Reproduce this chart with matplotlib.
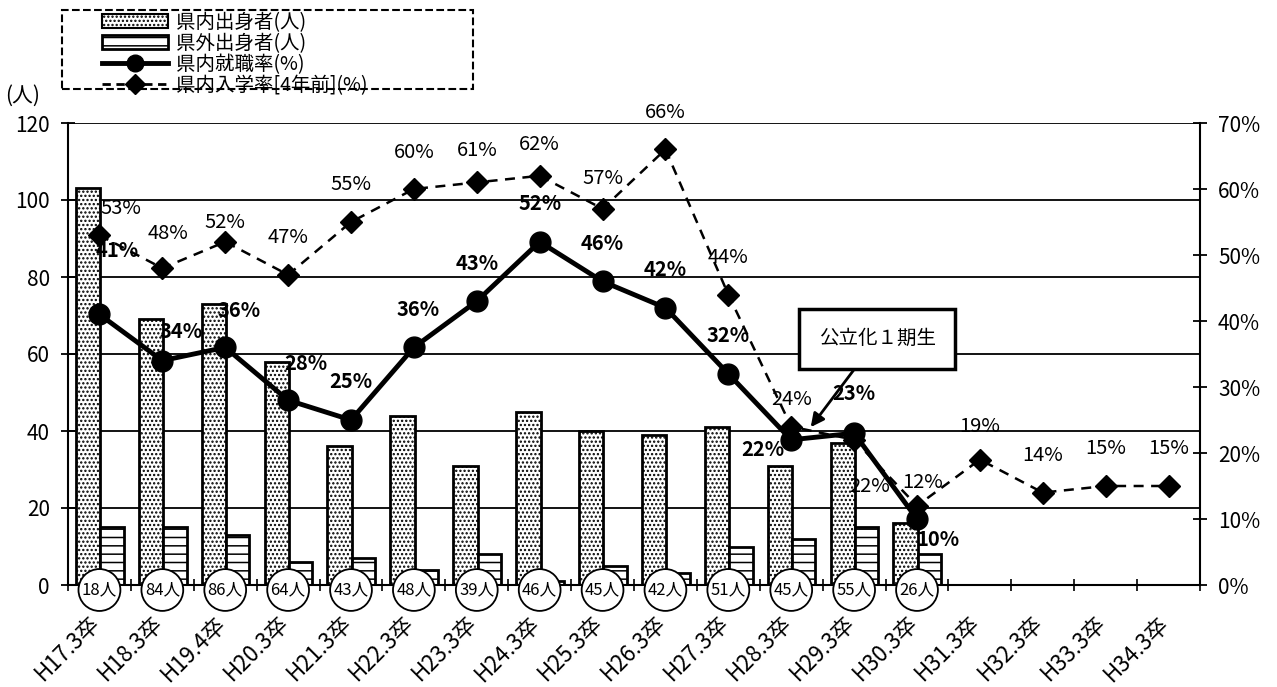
import numpy as np
import matplotlib.pyplot as plt
from matplotlib.patches import Patch, Rectangle
from matplotlib.lines import Line2D
from matplotlib.ticker import FuncFormatter
from matplotlib.transforms import ScaledTranslation

plt.rcParams['font.family'] = ['Noto Sans CJK JP', 'DejaVu Sans']
plt.rcParams['hatch.linewidth'] = 1.1

# categories (graduation year)
categories = ["H17.3卒", "H18.3卒", "H19.4卒", "H20.3卒", "H21.3卒", "H22.3卒",
              "H23.3卒", "H24.3卒", "H25.3卒", "H26.3卒", "H27.3卒", "H28.3卒",
              "H29.3卒", "H30.3卒", "H31.3卒", "H32.3卒", "H33.3卒", "H34.3卒"]

# people (left axis)
in_pref = [103, 69, 73, 58, 36, 44, 31, 45, 40, 39, 41, 31, 37, 16]
out_pref = [15, 15, 13, 6, 7, 4, 8, 1, 5, 3, 10, 12, 15, 8]
graduates = [18, 84, 86, 64, 43, 48, 39, 46, 45, 42, 51, 45, 55, 26]

# rates in % (right axis)
employ_rate = [41, 34, 36, 28, 25, 36, 43, 52, 46, 42, 32, 22, 23, 10]
entry_rate = [53, 48, 52, 47, 55, 60, 61, 62, 57, 66, 44, 24, 22, 12, 19, 14, 15, 15]

legend_labels = ["県内出身者(人)", "県外出身者(人)", "県内就職率(%)", "県内入学率[4年前](%)"]

# label offsets in pixels (dx, dy) where default doesn't fit
employ_offsets = {0: (18, 64), 1: (19, 29), 2: (14, 37), 3: (18, 37),
                  5: (4, 38), 11: (-28, -10), 12: (0, 40), 13: (21, -20)}
entry_offsets = {0: (21, 27), 1: (6, 35), 2: (0, 19), 6: (0, 32), 7: (0, 31),
                 8: (0, 30), 11: (0, 27), 12: (15, -47), 13: (6, 23), 14: (0, 33)}

W, H = 1277, 687
fig = plt.figure(figsize=(W / 100, H / 100), dpi=100)
ax = fig.add_axes([68 / W, 1 - 585 / H, (1200 - 68) / W, (585 - 123) / H])

x = np.arange(len(categories))
n = len(in_pref)

# bars
ax.bar(x[:n] - 0.18, in_pref, width=0.39, color='white', edgecolor='black',
       hatch='....', lw=2, zorder=2)
ax.bar(x[:n] + 0.20, out_pref, width=0.37, color='white', edgecolor='black',
       hatch='--', lw=2, zorder=2)

ax.set_xlim(-0.5, len(categories) - 0.5)
ax.set_ylim(0, 120)
ax.set_yticks(range(0, 121, 20))
ax.grid(axis='y', color='black', lw=1.3)
ax.set_axisbelow(True)
for s in ['top', 'right']:
    ax.spines[s].set_visible(False)
ax.spines['left'].set_linewidth(1.5)
ax.spines['bottom'].set_linewidth(1.5)

ax.set_xticks(x)
ax.set_xticklabels(categories, rotation=45, ha='right', va='center',
                   rotation_mode='anchor', fontsize=16)
ax.set_xticks(np.arange(-0.5, len(categories), 1), minor=True)
ax.tick_params(axis='x', which='major', length=0, pad=25)
ax.tick_params(axis='x', which='minor', length=8, width=1.2, direction='inout')
ax.tick_params(axis='y', direction='inout', length=10, width=1.3, labelsize=15, pad=8)
shift = ScaledTranslation(-3 / 100, 0, fig.dpi_scale_trans)
for lab in ax.get_xticklabels():
    lab.set_transform(lab.get_transform() + shift)

# number of graduates in circles on the axis
for i, g in enumerate(graduates):
    ax.annotate(f"{g}人", (x[i], 0), xytext=(0, -5), textcoords='offset pixels',
                ha='center', va='center', fontsize=12, zorder=5, annotation_clip=False,
                bbox=dict(boxstyle='circle,pad=0.2', fc='white', ec='black', lw=1.3))

# rates
ax2 = ax.twinx()
ax2.set_ylim(0, 70)
ax2.set_yticks(range(0, 71, 10))
ax2.yaxis.set_major_formatter(FuncFormatter(lambda v, p: f"{v:.0f}%"))
ax2.tick_params(axis='y', direction='inout', length=10, width=1.3, labelsize=15, pad=8)
for s in ['top', 'left', 'bottom']:
    ax2.spines[s].set_visible(False)
ax2.spines['right'].set_linewidth(1.5)

ax2.plot(x[:n], employ_rate, color='black', lw=3.5, marker='o', ms=15, zorder=4)
ax2.plot(x, entry_rate, color='black', lw=1.8, ls=(0, (4, 3)), marker='D', ms=11, zorder=3)

for i, v in enumerate(employ_rate):
    dx, dy = employ_offsets.get(i, (0, 38))
    ax2.annotate(f"{v}%", (x[i], v), xytext=(dx, dy), textcoords='offset pixels',
                 ha='center', va='center', fontsize=14.5, fontweight='bold', zorder=6)
for i, v in enumerate(entry_rate):
    dx, dy = entry_offsets.get(i, (0, 37))
    ax2.annotate(f"{v}%", (x[i], v), xytext=(dx, dy), textcoords='offset pixels',
                 ha='center', va='center', fontsize=14.5, zorder=6)

# callout
ax.annotate("公立化１期生", xy=(11.31, 41), xytext=(12.37, 64), ha='center', va='center',
            fontsize=14, zorder=7,
            bbox=dict(boxstyle='square,pad=1.0', fc='white', ec='black', lw=2.5),
            arrowprops=dict(arrowstyle='-|>', color='black', lw=2, mutation_scale=20,
                            shrinkA=0, shrinkB=0))

# legend
handles = [Patch(fc='white', ec='black', hatch='....', lw=1.5),
           Patch(fc='white', ec='black', hatch='--', lw=2),
           Line2D([], [], color='black', lw=3.5, marker='o', ms=12),
           Line2D([], [], color='black', lw=2, ls=(0, (3, 2)), marker='D', ms=10)]
fig.legend(handles, legend_labels, loc='upper left', bbox_to_anchor=(90 / W, 1.0),
           frameon=False, fontsize=14, handlelength=3.4, handletextpad=0.4,
           labelspacing=0.0, borderpad=0.1)
fig.patches.append(Rectangle((62 / W, 1 - 89 / H), 411 / W, 79 / H, transform=fig.transFigure,
                             fill=False, ls='--', lw=1.5, ec='black'))

fig.text(5 / W, 1 - 96 / H, "(人)", fontsize=15, va='center')

fig.savefig("out.png", dpi=100)
